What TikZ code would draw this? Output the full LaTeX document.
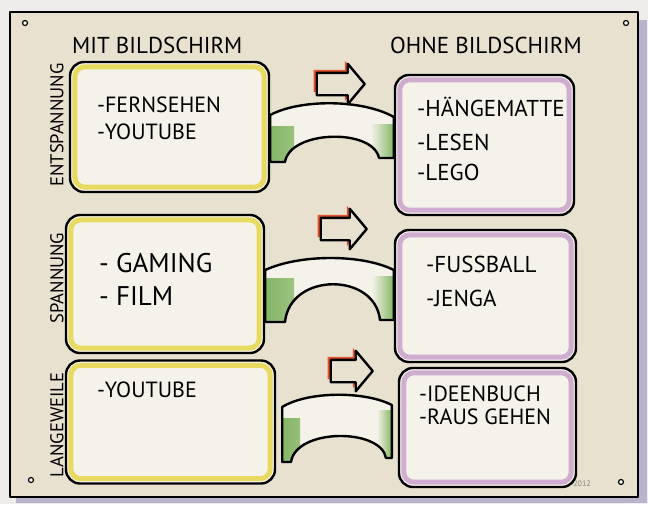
\documentclass[tikz,border=0pt]{standalone}
\usepackage{fontspec}
\setmainfont{PT Sans}
\usetikzlibrary{shapes.arrows,shadows}

\definecolor{paper}{HTML}{E8E1D0}
\definecolor{cardwhite}{HTML}{F5F2EA}
\definecolor{screenyel}{HTML}{E6D64A}
\definecolor{nopurple}{HTML}{C9A2CB}
\definecolor{bridgegreen}{HTML}{78B056}
\definecolor{arrowred}{HTML}{E5532E}
\definecolor{wallshade}{HTML}{B9B3CB}
\definecolor{backdrop}{HTML}{EFEDEC}

\tikzset{
  ink/.style={line width=2.4pt, line join=round, line cap=round},
  itembox/.style={ink, draw=black, fill=cardwhite, rounded corners=14pt, inner sep=0pt},
  yelmark/.style={draw=screenyel, line width=5pt, rounded corners=10pt, opacity=.85},
  purmark/.style={draw=nopurple, line width=5pt, rounded corners=10pt, opacity=.85},
  bridge/.style={ink, draw=black, fill=cardwhite},
  greenleft/.style={left color=bridgegreen, right color=cardwhite, opacity=.9},
  greenright/.style={left color=cardwhite, right color=bridgegreen, opacity=.9},
  bigarrow/.style={single arrow, ink, draw=black, fill=paper,
    inner xsep=0pt, inner ysep=10pt, single arrow head extend=9pt,
    single arrow tip angle=100,
    drop shadow={shadow xshift=-3pt, shadow yshift=3pt, fill=arrowred, opacity=1}},
  lettering/.style={font=\fontsize{22}{26}\selectfont, inner sep=0pt, anchor=base west},
  bigletter/.style={font=\fontsize{27}{30}\selectfont, inner sep=0pt, anchor=base west},
  rowlabel/.style={font=\fontsize{18.5}{20}\selectfont, inner sep=0pt, rotate=90},
  pin/.style={circle, draw=black, fill=white, line width=1.2pt, inner sep=0pt, minimum size=5pt}
}

\begin{document}
\begin{tikzpicture}[x=1pt, y=-1pt]
  \useasboundingbox[fill=backdrop] (0,0) rectangle (648,504);

  % Paper
  \fill[wallshade] (16,20) rectangle (647,503);
  \draw[ink, fill=paper, line width=2.6pt] (10,12) rectangle (638,497);
  \node[pin] (pinA) at (25,23) {};
  \node[pin] (pinB) at (626,23) {};
  \node[pin] (pinC) at (31,480) {};
  \node[pin] (pinD) at (621,482) {};
  \node[font=\fontsize{8}{8}\selectfont, text=gray] (sig) at (582,484) {2012};

  % Headings
  \node[lettering, font=\fontsize{23}{26}\selectfont] (hmit) at (72,53) {MIT BILDSCHIRM};
  \node[lettering, font=\fontsize{23}{26}\selectfont] (hohne) at (390,53) {OHNE BILDSCHIRM};
  \node[rowlabel] (rent) at (57,125) {ENTSPANNUNG};
  \node[rowlabel] (rspan) at (57,278) {SPANNUNG};
  \node[rowlabel] (rlang) at (57,425) {LANGEWEILE};

  % Boxes with screen
  \node[itembox, minimum width=199, minimum height=130] (lb1) at (169.5,127) {};
  \node[itembox, minimum width=198, minimum height=138] (lb2) at (165,284) {};
  \node[itembox, minimum width=209, minimum height=123] (lb3) at (170.5,422) {};
  \draw[yelmark] ([shift={(6,6)}]lb1.north west) rectangle ([shift={(-6,-6)}]lb1.south east);
  \draw[yelmark] ([shift={(6,6)}]lb2.north west) rectangle ([shift={(-6,-6)}]lb2.south east);
  \draw[yelmark] ([shift={(6,6)}]lb3.north west) rectangle ([shift={(-6,-6)}]lb3.south east);

  % Boxes without screen
  \node[itembox, minimum width=179, minimum height=140] (rb1) at (484.5,145) {};
  \node[itembox, minimum width=181, minimum height=132] (rb2) at (485.5,296) {};
  \node[itembox, minimum width=177, minimum height=119] (rb3) at (487.5,427.5) {};
  \draw[purmark] ([shift={(6,6)}]rb1.north west) rectangle ([shift={(-6,-6)}]rb1.south east);
  \draw[purmark] ([shift={(6,6)}]rb2.north west) rectangle ([shift={(-6,-6)}]rb2.south east);
  \draw[purmark] ([shift={(6,6)}]rb3.north west) rectangle ([shift={(-6,-6)}]rb3.south east);

  % Bridges
  \path[bridge, path picture={
      \shade[greenleft] (lb1.east |- 0,126) rectangle (294,165);
      \shade[greenright] (371,124) rectangle (rb1.west |- 0,160);}]
    (lb1.east |- 0,115) .. controls (300,99) and (362,99) .. (rb1.west |- 0,117)
    -- (rb1.west |- 0,158) -- (379,158) .. controls (373,128) and (290,130) .. (285,162)
    -- (lb1.east |- 0,162) -- cycle;
  \path[bridge, path picture={
      \shade[greenleft] (lb2.east |- 0,278) rectangle (294,325);
      \shade[greenright] (372,276) rectangle (rb2.west |- 0,322);}]
    (lb2.east |- 0,270) .. controls (300,254) and (362,254) .. (rb2.west |- 0,270)
    -- (rb2.west |- 0,320) -- (380,320) .. controls (375,272) and (290,272) .. (285,322)
    -- (lb2.east |- 0,322) -- cycle;
  \path[bridge, path picture={
      \shade[greenleft] ([xshift=6]lb3.east |- 0,418) rectangle (300,465);
      \shade[greenright] (377,410) rectangle ([xshift=-6]rb3.west |- 0,460);}]
    ([xshift=6]lb3.east |- 0,407) .. controls (308,391) and (365,391) .. ([xshift=-6]rb3.west |- 0,405)
    -- ([xshift=-6]rb3.west |- 0,458) -- (386,458) .. controls (381,428) and (296,428) .. (291,462)
    -- ([xshift=6]lb3.east |- 0,462) -- cycle;

  % Arrows
  \node[bigarrow, minimum height=48] (ar1) at (336,84) {};
  \node[bigarrow, minimum height=46] (ar2) at (339,229) {};
  \node[bigarrow, minimum height=42] (ar3) at (347,371) {};

  % Texts, with screen
  \node[lettering] (t11) at (97,112) {-FERNSEHEN};
  \node[lettering] (t12) at (97,139) {-YOUTUBE};
  \node[bigletter] (t21) at (99,272) {- GAMING};
  \node[bigletter] (t22) at (99,305) {- FILM};
  \node[lettering] (t31) at (97,397) {-YOUTUBE};

  % Texts, without screen
  \node[lettering, font=\fontsize{23}{26}\selectfont] (u11) at (417,116) {-HÄNGEMATTE};
  \node[lettering, font=\fontsize{23}{26}\selectfont] (u12) at (417,150) {-LESEN};
  \node[lettering, font=\fontsize{23}{26}\selectfont] (u13) at (417,180) {-LEGO};
  \node[lettering, font=\fontsize{23}{26}\selectfont] (u21) at (426,272) {-FUSSBALL};
  \node[lettering, font=\fontsize{23}{26}\selectfont] (u22) at (426,306) {-JENGA};
  \node[lettering] (u31) at (419,401) {-IDEENBUCH};
  \node[lettering] (u32) at (419,424) {-RAUS GEHEN};
\end{tikzpicture}
\end{document}
